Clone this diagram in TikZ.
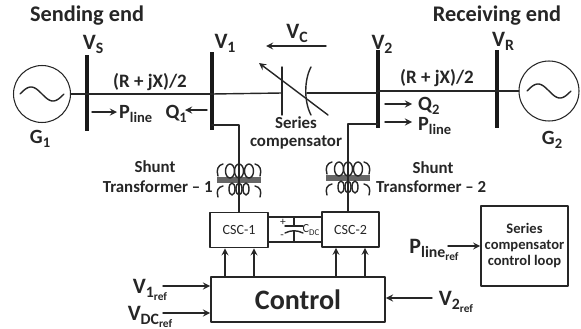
\documentclass[tikz,border=0pt]{standalone}
\usepackage{fontspec}
\setmainfont{Carlito}
\newcommand{\lowsub}[1]{\raisebox{-.38ex}{\scalebox{.72}{#1}}}
\begin{document}
\begin{tikzpicture}[x=0.02cm,y=-0.02cm,line join=round,line cap=round,>=stealth,color=black!85]
    \tikzset{head/.style={font=\bfseries\fontsize{12.7}{14}\selectfont},
        volt/.style={font=\bfseries\fontsize{12.5}{14}\selectfont},
        flow/.style={font=\bfseries\fontsize{11.5}{13}\selectfont},
        small/.style={font=\bfseries\fontsize{9.6}{9.6}\selectfont,align=center},
        imped/.style={font=\bfseries\fontsize{10.8}{12}\selectfont},
        wire/.style={line width=0.8pt},
        busbar/.style={fill=black!90,inner sep=0pt,minimum width=0.07cm},
        gen/.style={draw,circle,inner sep=0pt,line width=0.6pt},
        boxx/.style={draw,line width=0.9pt,inner sep=0pt},
        cscbox/.style={boxx,minimum height=0.7cm,font=\fontsize{8}{9}\selectfont}}
    \useasboundingbox (0,0) rectangle (581,328);
    % buses
    \node[busbar,minimum height=1.54cm] (busS) at (87,93) {};
    \node[busbar,minimum height=1.56cm] (busA) at (212,91) {};
    \node[busbar,minimum height=1.56cm] (busB) at (378,89) {};
    \node[busbar,minimum height=1.56cm] (busR) at (497,89) {};
    \node[gen,minimum size=1.14cm] (G1) at (42,94) {};
    \node[gen,minimum size=1.2cm] (G2) at (549,91) {};
    \foreach \gx/\gy in {42/94,549/91}
    \draw[wire,samples=60,domain=-1:1,smooth,variable=\x] plot ({\gx+22*\x},{\gy+7*sin(180*\x)});
    % line
    \draw[line width=1.3pt] (G1) -- (G1 -| busA);
    \draw[line width=1.3pt] (busB |- G2) -- (G2);
    \coordinate (capL) at (282,93);
    \coordinate (capR) at (307,93);
    \draw[wire] (G1 -| busA) -- (capL);
    \draw[wire] (capR) -- (capR -| busB);
    % series compensator
    \draw[wire] (282,67) -- (282,115);
    \draw[wire] (311,67) .. controls (304,80) and (304,102) .. (311,115);
    \draw[->,wire] (328,115) -- (259,63);
    \draw[->,wire] (326,46) -- (266,46);
    % text top
    \node[head] (send) at (87,16) {Sending end};
    \node[head] (recv) at (497,16) {Receiving end};
    \node[volt] (vS) at (93,44) {V\lowsub{S}};
    \node[volt] (vA) at (225,43) {V\lowsub{1}};
    \node[volt] (vB) at (382,44) {V\lowsub{2}};
    \node[volt] (vR) at (503,41) {V\lowsub{R}};
    \node[volt] (vC) at (297,33) {V\lowsub{C}};
    \node[flow] (g1) at (40,139) {G\lowsub{1}};
    \node[flow] (g2) at (552,140) {G\lowsub{2}};
    \node[imped] (zA) at (150,82) {(R + jX)/2};
    \node[imped] (zB) at (437,78) {(R + jX)/2};
    \node[small] (comp) at (296,133) {Series\\[0.5pt]compensator};
    % flows
    \node[flow,anchor=west] (pA) at (113,114) {P\lowsub{line}};
    \node[flow,anchor=east] (qA) at (193,114) {Q\lowsub{1}};
    \node[flow,anchor=west] (qB) at (412,106) {Q\lowsub{2}};
    \node[flow,anchor=west] (pB) at (412,126) {P\lowsub{line}};
    \coordinate (pa) at (92,112);
    \coordinate (qa) at (207,110);
    \coordinate (qb) at (385,104);
    \coordinate (pb) at (385,122);
    \draw[->,wire] (pa) -- +(25,0);
    \draw[->,wire] (qa) -- +(-22,0);
    \draw[->,wire] (qb) -- +(27,0);
    \draw[->,wire] (pb) -- +(27,0);
    % boxes
    \node[cscbox,minimum width=1.16cm] (cscA) at (239,230) {CSC-1};
    \node[cscbox,minimum width=1.14cm] (cscB) at (350.5,229.5) {CSC-2};
    \node[boxx,line width=1.1pt,minimum width=3.48cm,minimum height=0.9cm,font=\bfseries\fontsize{16}{18}\selectfont] (control) at (298,299.5) {Control};
    \node[boxx,minimum width=1.74cm,minimum height=1.6cm,font=\bfseries\fontsize{8.3}{9.1}\selectfont,align=center] (loop) at (524.5,246) {Series\\compensator\\control loop};
    % shunt transformers
    \foreach \n/\cx/\cy in {1/239/180,2/348/178}
    {
    \begin{scope}[shift={(\cx,\cy)}]
        \node[fill=black!60,inner sep=0pt,minimum width=0.88cm,minimum height=0.13cm] (core\n) at (0,0) {};
        \foreach \dx in {-9,0,10}
        \draw[wire] (\dx,-9) ellipse [x radius=4.5,y radius=7];
        \foreach \dx in {-7,0,7}
        \draw[wire] (\dx,9) ellipse [x radius=3,y radius=6];
        \foreach \s in {-1,1}
        {
        \draw[wire] (\s*21,-4) .. controls (\s*23,-10) and (\s*21,-15) .. (\s*16,-16);
        \draw[wire] (\s*21,17) .. controls (\s*23,11) and (\s*21,7) .. (\s*16,6);
        }
    \end{scope}
    }
    \coordinate (tapA) at (212,125);
    \coordinate (tapB) at (378,124);
    \draw[wire] (tapA) -| (cscA.north);
    \draw[wire] (tapB) -- (tapB -| core2) -- (cscB.north -| core2);
    \node[small] (tsA) at (155,167) {Shunt};
    \node[small,anchor=east] (tA) at (219,187) {Transformer -- 1};
    \node[small] (tsB) at (433,168) {Shunt};
    \node[small,anchor=west] (tB) at (370,187) {Transformer -- 2};
    % dc link
    \draw[wire] (cscA.east |- 0,217) -- (cscB.west |- 0,217);
    \draw[wire] (cscA.east |- 0,242) -- (cscB.west |- 0,242);
    \draw[wire] (294,217) -- (294,226);
    \draw[wire] (285,226) -- (303,226);
    \draw[wire] (285,233) .. controls (291,230) and (297,230) .. (303,233);
    \draw[wire] (294,231) -- (294,242);
    \node[font=\fontsize{6.5}{7}\selectfont] (plus) at (283,222) {+};
    \node[font=\fontsize{6.5}{7}\selectfont] (minus) at (282,237) {-};
    \node[font=\fontsize{7}{8}\selectfont] (cdc) at (311,230) {C\lowsub{DC}};
    % control signals
    \foreach \x in {225,254}
    \draw[->,wire] (\x,0 |- control.north) -- (\x,0 |- cscA.south);
    \foreach \x in {336,365}
    \draw[->,wire] (\x,0 |- control.north) -- (\x,0 |- cscB.south);
    \node[volt] (vAref) at (150,290) {V\lowsub{1\lowsub{ref}}};
    \node[volt] (vDref) at (150,317) {V\lowsub{DC\lowsub{ref}}};
    \node[volt] (vBref) at (456,302) {V\lowsub{2\lowsub{ref}}};
    \node[volt] (pref) at (434,250) {P\lowsub{line\lowsub{ref}}};
    \coordinate (inA) at (163,286);
    \coordinate (inD) at (163,313);
    \coordinate (inB) at (432,298);
    \coordinate (inP) at (448,246);
    \draw[->,wire] (inA) -- (inA -| control.west);
    \draw[->,wire] (inD) -- (inD -| control.west);
    \draw[->,wire] (inB) -- (inB -| control.east);
    \draw[->,wire] (inP) -- (inP -| loop.west);
\end{tikzpicture}
\end{document}
